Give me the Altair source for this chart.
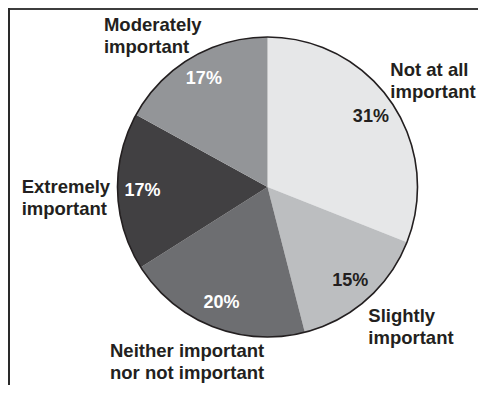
import altair as alt
import pandas as pd

# ---- data ----
categories = [
    "Not at all important",
    "Slightly important",
    "Neither important nor not important",
    "Extremely important",
    "Moderately important",
]
label_lines = [
    "Not at all\nimportant",
    "Slightly\nimportant",
    "Neither important\nnor not important",
    "Extremely\nimportant",
    "Moderately\nimportant",
]
percent = [31, 15, 20, 17, 17]

# ---- styles ----
fill_colors = ["#e6e7e8", "#bcbec0", "#6d6e71", "#414042", "#939598"]
text_colors = ["#231f20", "#231f20", "#ffffff", "#ffffff", "#ffffff"]
label_offsets = [(-9.5, -21.4), (-5.0, 14.7), (-98.6, 21.5), (-85.9, 0.7), (-82.1, -18.6)]
FONT = "Liberation Sans"
INK = "#231f20"

df = pd.DataFrame({
    "category": categories,
    "label": label_lines,
    "value": percent,
    "order": list(range(len(categories))),
    "pct": [f"{p}%" for p in percent],
    "tcolor": text_colors,
})

base = alt.Chart(df).encode(
    theta=alt.Theta("value:Q", stack=True),
    order=alt.Order("order:Q", sort="ascending"),
)

pie = base.mark_arc(outerRadius=150, strokeWidth=0).encode(
    color=alt.Color("category:N", scale=alt.Scale(domain=categories, range=fill_colors), legend=None)
)

outline = alt.Chart(df).transform_filter(alt.datum.order == 0).mark_arc(
    outerRadius=150, fillOpacity=0, stroke=INK, strokeWidth=1.6
).encode(theta=alt.value(0), theta2=alt.value(6.2832))

pct_text = base.mark_text(
    radius=125, font=FONT, fontWeight="bold", fontSize=18, align="center", baseline="middle"
).encode(text="pct:N", color=alt.Color("tcolor:N", scale=None))

label_layers = []
for i, (dx, dy) in enumerate(label_offsets):
    label_layers.append(
        base.mark_text(
            radius=160, font=FONT, fontWeight="bold", fontSize=18.5, align="left",
            baseline="alphabetic", dx=dx, dy=dy, lineBreak="\n", lineHeight=22, color=INK,
        ).encode(text=alt.condition(alt.datum.order == i, "label:N", alt.value("")))
    )

frame_top = alt.Chart(df).transform_filter(alt.datum.order == 0).mark_rule(
    color="#3d3d3d", strokeWidth=2
).encode(x=alt.value(-50), x2=alt.value(419), y=alt.value(1))

frame_left = alt.Chart(df).transform_filter(alt.datum.order == 0).mark_rule(
    color="#2a2a2a", strokeWidth=2
).encode(x=alt.value(-50), y=alt.value(0), y2=alt.value(377))

chart = alt.layer(pie, outline, pct_text, *label_layers, frame_top, frame_left).properties(
    width=417,
    height=358,
    padding={"left": 51, "top": 0, "right": 2, "bottom": 19},
    autosize=alt.AutoSizeParams(type="none"),
    background="white",
).configure_view(stroke=None)

chart.save("out.html", embed_options={"renderer": "svg", "actions": False})
